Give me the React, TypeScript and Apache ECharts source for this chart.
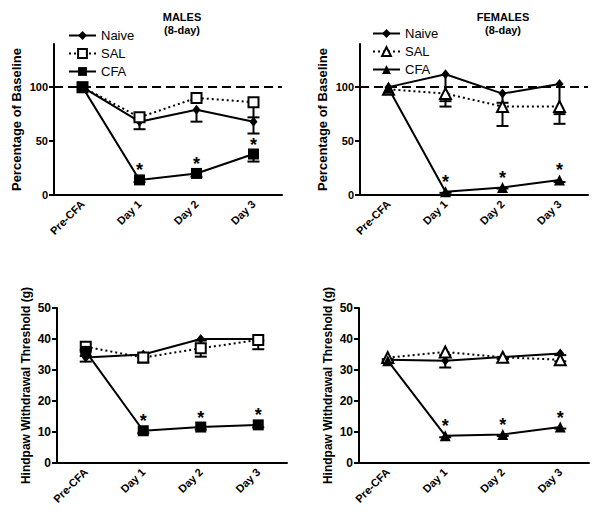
import React, { useEffect, useRef } from "react";
import * as echarts from "echarts";

const categories = ["Pre-CFA", "Day 1", "Day 2", "Day 3"];

// Top-left: MALES, % of baseline
const maleNaivePct = [100, 68, 79, 68];
const maleSalPct = [100, 72, 90, 86];
const maleCfaPct = [100, 14, 20, 38];
const maleNaivePctErr = [0, 7, 11, 11];
const maleSalPctErr = [0, 2, 2, 14];
const maleCfaPctErr = [0, 2, 3, 7];

// Top-right: FEMALES, % of baseline
const femNaivePct = [100, 112, 94, 103];
const femSalPct = [98, 94, 82, 82];
const femCfaPct = [99, 3, 7, 14];
const femNaivePctErr = [0, 25, 8.5, 28];
const femSalPctErr = [0, 12, 18, 16];
const femCfaPctErr = [0, 1, 1, 2];

// Bottom-left: MALES, withdrawal threshold (g)
const maleNaiveG = [34, 35, 40, 40];
const maleSalG = [37.5, 34, 37, 39.7];
const maleCfaG = [36, 10.4, 11.6, 12.3];
const maleNaiveGErr = [1.3, 1, 0.5, 0.5];
const maleSalGErr = [1, 1.6, 2.7, 3];
const maleCfaGErr = [1.5, 0.8, 0.8, 0.8];

// Bottom-right: FEMALES, withdrawal threshold (g)
const femNaiveG = [33.3, 33, 34.2, 35.3];
const femSalG = [34, 35.8, 34.1, 33.3];
const femCfaG = [33, 8.8, 9.2, 11.6];
const femNaiveGErr = [0.5, 2.2, 0.5, 0.5];
const femSalGErr = [0.5, 1, 0.5, 0.5];
const femCfaGErr = [0.5, 0.5, 0.5, 0.5];

const pctTicks = [0, 50, 100];
const gTicks = [0, 10, 20, 30, 40, 50];

const FONT = '"Liberation Sans", Arial, Helvetica, sans-serif';
const BLACK = "#000";

function errData(vals: number[], errs: number[]) {
  return vals.map((v, i) => [i, v - errs[i], v]);
}

function errSeries(idx: number, groups: [number[], number[]][]) {
  const data: number[][] = [];
  groups.forEach(([v, e]) => errData(v, e).forEach((d) => data.push(d)));
  return {
    type: "custom",
    xAxisIndex: idx,
    yAxisIndex: idx,
    z: 1,
    silent: true,
    encode: { x: 0, y: [1, 2] },
    data,
    renderItem: (params: any, api: any) => {
      const x = api.value(0);
      const lo = api.value(1);
      const hi = api.value(2);
      if (hi - lo <= 0) return null;
      const pLo = api.coord([x, lo]);
      const pHi = api.coord([x, hi]);
      const w = 6;
      const st = { stroke: BLACK, lineWidth: 2 };
      return {
        type: "group",
        children: [
          { type: "line", shape: { x1: pLo[0], y1: pLo[1], x2: pHi[0], y2: pHi[1] }, style: st },
          { type: "line", shape: { x1: pLo[0] - w, y1: pLo[1], x2: pLo[0] + w, y2: pLo[1] }, style: st },
        ],
      };
    },
  };
}

function lineSeries(
  name: string,
  idx: number,
  data: number[],
  symbol: string,
  symbolSize: any,
  dotted: boolean,
  stars: boolean,
  extra: any = {}
) {
  return {
    name,
    type: "line",
    xAxisIndex: idx,
    yAxisIndex: idx,
    data,
    symbol,
    symbolSize,
    z: 3,
    lineStyle: { color: BLACK, width: 2, type: dotted ? [2, 3] : "solid" },
    itemStyle: { color: BLACK, borderColor: BLACK, borderWidth: symbol.startsWith("empty") ? 2 : 0 },
    label: stars
      ? {
          show: true,
          position: "top",
          distance: -5,
          formatter: (p: any) => (p.dataIndex > 0 ? "*" : ""),
          color: BLACK,
          fontSize: 18,
          fontWeight: "bold",
          fontFamily: FONT,
        }
      : { show: false },
    emphasis: { disabled: true },
    ...extra,
  };
}

const refLine = {
  markLine: {
    silent: true,
    symbol: ["none", "none"],
    label: { show: false },
    lineStyle: { color: BLACK, width: 2, type: [9, 5] },
    data: [{ yAxis: 100 }],
  },
};

function xAxisCfg(idx: number) {
  return {
    type: "category",
    gridIndex: idx,
    data: categories,
    boundaryGap: true,
    axisLine: { lineStyle: { color: BLACK, width: 2 } },
    axisTick: { alignWithLabel: true, length: 5, lineStyle: { color: BLACK, width: 2 } },
    axisLabel: {
      rotate: 45,
      margin: 7,
      color: BLACK,
      fontSize: 11,
      fontWeight: "bold",
      fontFamily: FONT,
      interval: 0,
    },
    splitLine: { show: false },
  };
}

function yAxisCfg(idx: number, max: number, ticks: number[], name: string, nameGap: number, fs: number, nameFs: number) {
  return {
    type: "value",
    gridIndex: idx,
    min: 0,
    max,
    name,
    nameLocation: "middle",
    nameGap,
    nameTextStyle: { color: BLACK, fontSize: nameFs, fontWeight: "bold", fontFamily: FONT },
    axisLine: { show: true, lineStyle: { color: BLACK, width: 2 } },
    axisTick: { show: true, length: 5, customValues: ticks, lineStyle: { color: BLACK, width: 2 } },
    axisLabel: {
      customValues: ticks,
      margin: 6,
      color: BLACK,
      fontSize: fs,
      fontWeight: "bold",
      fontFamily: FONT,
    },
    splitLine: { show: false },
  };
}

export default function App() {
  const ref = useRef<HTMLDivElement>(null);
  useEffect(() => {
    if (!ref.current) return;
    const chart = echarts.init(ref.current, null, { renderer: "svg" });
    const legendCommon = {
      orient: "vertical",
      itemWidth: 27,
      itemHeight: 11,
      itemGap: 5,
      selectedMode: false,
      textStyle: { color: BLACK, fontSize: 13, fontFamily: FONT },
    };
    chart.setOption({
      animation: false,
      backgroundColor: "#fff",
      textStyle: { fontFamily: FONT },
      grid: [
        { left: 54, top: 44, width: 228, height: 151 },
        { left: 360, top: 44, width: 228, height: 151 },
        { left: 57, top: 308, width: 230, height: 155 },
        { left: 359, top: 308, width: 230, height: 155 },
      ],
      xAxis: [xAxisCfg(0), xAxisCfg(1), xAxisCfg(2), xAxisCfg(3)],
      yAxis: [
        yAxisCfg(0, 140, pctTicks, "Percentage of Baseline", 31, 11, 13),
        yAxisCfg(1, 140, pctTicks, "Percentage of Baseline", 31, 11, 13),
        yAxisCfg(2, 50, gTicks, "Hindpaw Withdrawal Threshold (g)", 25, 12, 12),
        yAxisCfg(3, 50, gTicks, "Hindpaw Withdrawal Threshold (g)", 25, 12, 12),
      ],
      legend: [
        {
          ...legendCommon,
          left: 63,
          top: 24,
          data: ["Naive", "SAL", "CFA"],
        },
        {
          ...legendCommon,
          left: 367,
          top: 22,
          data: ["F Naive", "F SAL", "F CFA"],
          formatter: (n: string) => n.replace(/^F /, ""),
        },
      ],
      graphic: [
        {
          type: "text",
          x: 182,
          y: 10,
          style: { text: "MALES\n(8-day)", textAlign: "center", fill: BLACK, font: `bold 11px ${FONT}`, lineHeight: 13 },
        },
        {
          type: "text",
          x: 503,
          y: 10,
          style: { text: "FEMALES\n(8-day)", textAlign: "center", fill: BLACK, font: `bold 11px ${FONT}`, lineHeight: 13 },
        },
      ],
      series: [
        errSeries(0, [
          [maleNaivePct, maleNaivePctErr],
          [maleSalPct, maleSalPctErr],
          [maleCfaPct, maleCfaPctErr],
        ]),
        lineSeries("Naive", 0, maleNaivePct, "diamond", [8, 10], false, false, refLine),
        lineSeries("SAL", 0, maleSalPct, "emptyRect", 10, true, false),
        lineSeries("CFA", 0, maleCfaPct, "rect", 11, false, true),

        errSeries(1, [
          [femNaivePct, femNaivePctErr],
          [femSalPct, femSalPctErr],
          [femCfaPct, femCfaPctErr],
        ]),
        lineSeries("F Naive", 1, femNaivePct, "diamond", [8, 10], false, false, refLine),
        lineSeries("F SAL", 1, femSalPct, "emptyTriangle", 11, true, false),
        lineSeries("F CFA", 1, femCfaPct, "triangle", 11, false, true),

        errSeries(2, [
          [maleNaiveG, maleNaiveGErr],
          [maleSalG, maleSalGErr],
          [maleCfaG, maleCfaGErr],
        ]),
        lineSeries("M2 Naive", 2, maleNaiveG, "diamond", [8, 10], false, false),
        lineSeries("M2 SAL", 2, maleSalG, "emptyRect", 10, true, false),
        lineSeries("M2 CFA", 2, maleCfaG, "rect", 11, false, true),

        errSeries(3, [
          [femNaiveG, femNaiveGErr],
          [femSalG, femSalGErr],
          [femCfaG, femCfaGErr],
        ]),
        lineSeries("F2 Naive", 3, femNaiveG, "diamond", [8, 10], false, false),
        lineSeries("F2 SAL", 3, femSalG, "emptyTriangle", 11, true, false),
        lineSeries("F2 CFA", 3, femCfaG, "triangle", 11, false, true),
      ],
    });
    return () => chart.dispose();
  }, []);
  return (
    <div
      ref={ref}
      style={{ position: "absolute", left: 0, top: 0, width: 600, height: 522, background: "#fff" }}
    />
  );
}
